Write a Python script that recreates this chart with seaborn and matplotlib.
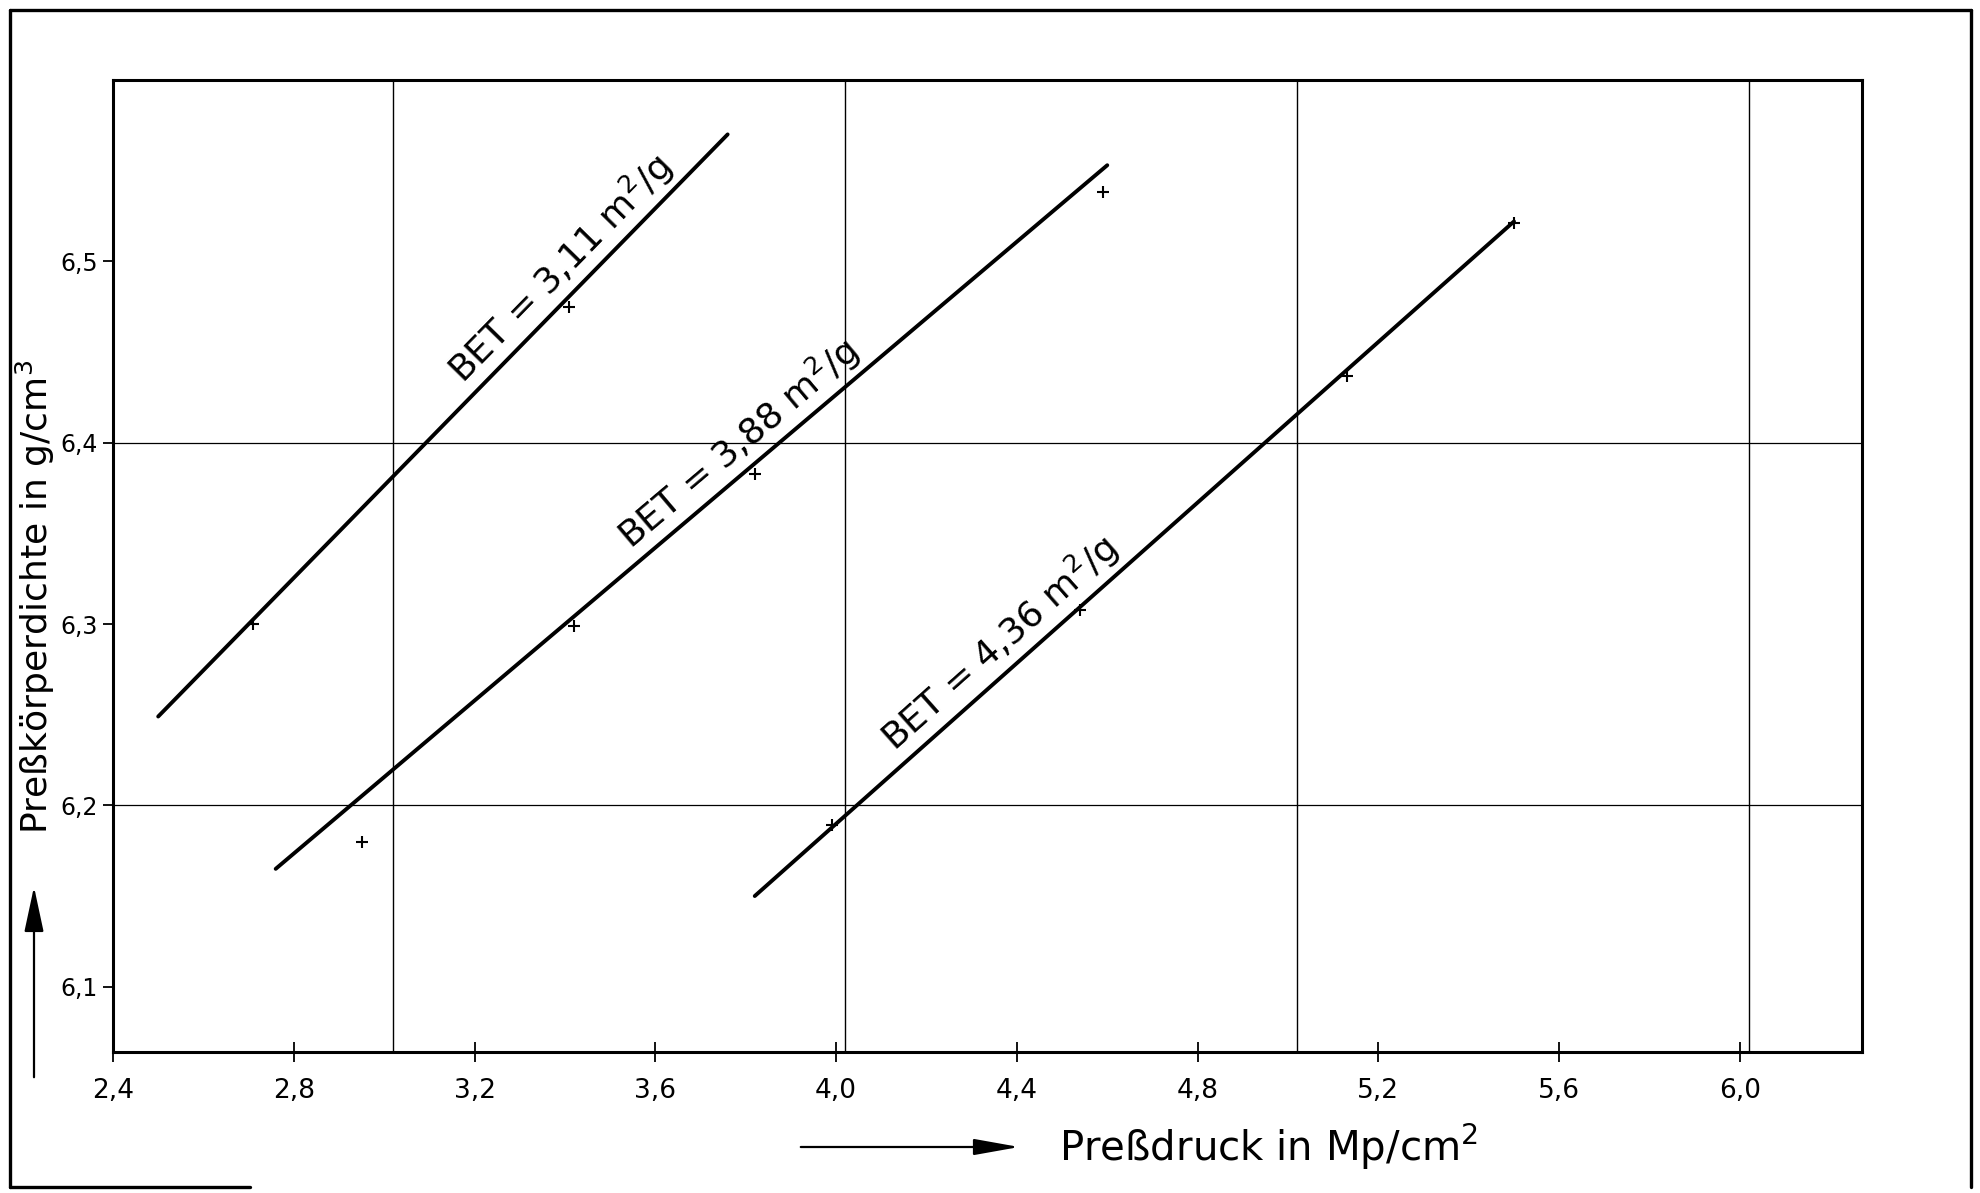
import numpy as np
import matplotlib
matplotlib.use("Agg")
import matplotlib.pyplot as plt
import seaborn as sns
from matplotlib.lines import Line2D
from matplotlib import font_manager

# ---------------- data ----------------
bet_labels = ["BET = 3,11 m$^{2}$/g", "BET = 3,88 m$^{2}$/g", "BET = 4,36 m$^{2}$/g"]

pts_x_311 = [2.71, 3.41]
pts_y_311 = [6.300, 6.475]
pts_x_388 = [2.95, 3.42, 3.82, 4.59]
pts_y_388 = [6.180, 6.299, 6.383, 6.538]
pts_x_436 = [3.99, 4.54, 5.13, 5.50]
pts_y_436 = [6.189, 6.308, 6.437, 6.521]

fit_x_311 = [2.50, 3.76]
fit_y_311 = [6.249, 6.570]
fit_x_388 = [2.76, 4.60]
fit_y_388 = [6.165, 6.553]
fit_x_436 = [3.82, 5.50]
fit_y_436 = [6.150, 6.522]

label_x = [3.43, 3.82, 4.40]

x_ticks = [2.4, 2.8, 3.2, 3.6, 4.0, 4.4, 4.8, 5.2, 5.6, 6.0]
x_tick_labels = ["2,4", "2,8", "3,2", "3,6", "4,0", "4,4", "4,8", "5,2", "5,6", "6,0"]
y_ticks = [6.1, 6.2, 6.3, 6.4, 6.5]
y_tick_labels = ["6,1", "6,2", "6,3", "6,4", "6,5"]
grid_x = [3.02, 4.02, 5.02, 6.02]
grid_y = [6.2, 6.4]

x_label = "Preßdruck in Mp/cm$^{2}$"
y_label = "Preßkörperdichte in g/cm$^{3}$"

# ---------------- styling ----------------
sns.set_theme(style="white")
plt.rcParams["font.family"] = ["DejaVu Sans"]
plt.rcParams["mathtext.fontset"] = "dejavusans"

installed = {f.name for f in font_manager.fontManager.ttflist}
if "Liberation Sans Narrow" in installed:
    narrow_family, narrow_size = "Liberation Sans Narrow", 23
else:
    narrow_family, narrow_size = "DejaVu Sans", 19

fig = plt.figure(figsize=(19.8, 11.93), dpi=100)
W, H = 1980, 1193
ax = fig.add_axes([113 / W, 1 - 1052 / H, (1862 - 113) / W, (1052 - 80) / H])
ax.set_xlim(2.4, 6.27)
ax.set_ylim(6.064, 6.60)

for gx in grid_x:
    ax.axvline(gx, color="black", lw=1.0, zorder=1)
for gy in grid_y:
    ax.axhline(gy, color="black", lw=0.9, zorder=1)

series = [
    (fit_x_311, fit_y_311, pts_x_311, pts_y_311),
    (fit_x_388, fit_y_388, pts_x_388, pts_y_388),
    (fit_x_436, fit_y_436, pts_x_436, pts_y_436),
]
for fx, fy, px, py in series:
    sns.lineplot(x=fx, y=fy, ax=ax, color="black", lw=2.8, estimator=None,
                 sort=False, zorder=3)
    sns.scatterplot(x=px, y=py, ax=ax, marker="+", s=80, color="black",
                    linewidth=1.5, zorder=4)

ax.set_xticks(x_ticks, x_tick_labels)
ax.set_yticks(y_ticks, y_tick_labels)
ax.tick_params(axis="x", direction="inout", length=14, width=1.3, pad=12,
               colors="black", labelsize=narrow_size, labelfontfamily=narrow_family)
ax.tick_params(axis="y", direction="out", length=7, width=1.3, pad=4,
               colors="black", labelsize=17)
ax.tick_params(left=True, bottom=True)
for s in ax.spines.values():
    s.set_color("black")
    s.set_linewidth(2.2)

# axis titles
fig.text(1269 / W, 1 - 1147 / H, x_label, fontsize=29, ha="center", va="center",
         color="black")
fig.text(35 / W, 1 - 597 / H, y_label, fontsize=26, ha="center", va="center",
         rotation=90, color="black")

# labels along the lines
fig.canvas.draw()
for (fx, fy, px, py), lx, txt in zip(series, label_x, bet_labels):
    p1 = ax.transData.transform((fx[0], fy[0]))
    p2 = ax.transData.transform((fx[1], fy[1]))
    ang = np.degrees(np.arctan2(p2[1] - p1[1], p2[0] - p1[0]))
    ly = np.interp(lx, fx, fy)
    nrm = np.radians(ang + 90)
    off = 14
    ax.annotate(txt, xy=(lx, ly), xytext=(off * np.cos(nrm), off * np.sin(nrm)),
                textcoords="offset pixels", rotation=ang, rotation_mode="anchor",
                ha="center", va="baseline", fontsize=26, color="black", zorder=5)

# axis arrows
fig.add_artist(matplotlib.patches.FancyArrowPatch(
    (34 / W, 1 - 1080 / H), (34 / W, 1 - 884 / H), transform=fig.transFigure,
    arrowstyle="-|>,head_length=1.4,head_width=0.3", color="black", lw=1.6,
    mutation_scale=20))
fig.add_artist(matplotlib.patches.FancyArrowPatch(
    (798 / W, 1 - 1147 / H), (1022 / W, 1 - 1147 / H), transform=fig.transFigure,
    arrowstyle="-|>,head_length=1.4,head_width=0.25", color="black", lw=1.6,
    mutation_scale=20))

# outer scan frame
frame_kw = dict(color="black", lw=2.4, transform=fig.transFigure)
fig.add_artist(Line2D([10 / W, 1971 / W], [1 - 10 / H, 1 - 10 / H], **frame_kw))
fig.add_artist(Line2D([10 / W, 10 / W], [1 - 10 / H, 1 - 1187 / H], **frame_kw))
fig.add_artist(Line2D([1971 / W, 1971 / W], [1 - 10 / H, 1 - 1187 / H], **frame_kw))
fig.add_artist(Line2D([10 / W, 250 / W], [1 - 1187 / H, 1 - 1187 / H], **frame_kw))

fig.savefig("out.png", dpi=100)
